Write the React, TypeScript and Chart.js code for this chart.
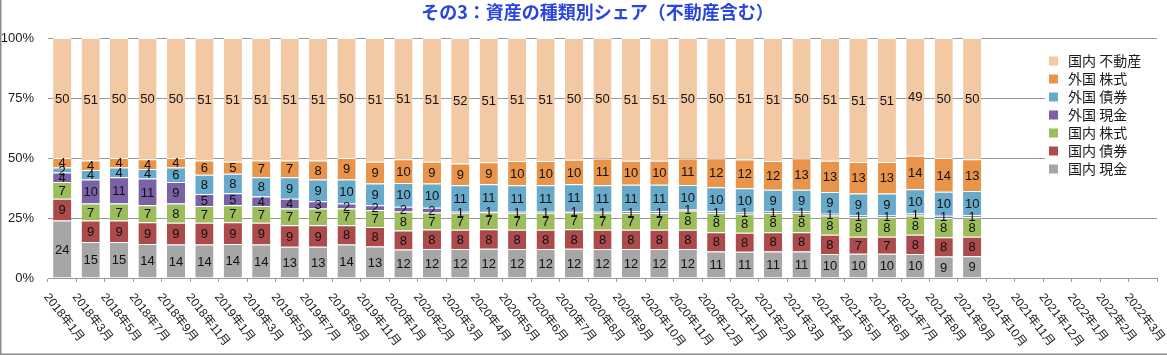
import React, { useEffect, useRef } from "react";
import { Chart, registerables } from "chart.js";

Chart.register(...registerables);

const chartTitle = "その3：資産の種類別シェア（不動産含む）";

const categories = [
  "2018年1月", "2018年3月", "2018年5月", "2018年7月", "2018年9月", "2018年11月",
  "2019年1月", "2019年3月", "2019年5月", "2019年7月", "2019年9月", "2019年11月",
  "2020年1月", "2020年2月", "2020年3月", "2020年4月", "2020年5月", "2020年6月",
  "2020年7月", "2020年8月", "2020年9月", "2020年10月", "2020年11月", "2020年12月",
  "2021年1月", "2021年2月", "2021年3月", "2021年4月", "2021年5月", "2021年6月",
  "2021年7月", "2021年8月", "2021年9月", "2021年10月", "2021年11月", "2021年12月",
  "2022年1月", "2022年2月", "2022年3月",
];

const yTicks = [0, 25, 50, 75, 100];

// 国内 現金
const domesticCash = [24, 15, 15, 14, 14, 14, 14, 14, 13, 13, 14, 13, 12, 12, 12, 12, 12, 12, 12, 12, 12, 12, 12, 11, 11, 11, 11, 10, 10, 10, 10, 9, 9];
// 国内 債券
const domesticBond = [9, 9, 9, 9, 9, 9, 9, 9, 9, 9, 8, 8, 8, 8, 8, 8, 8, 8, 8, 8, 8, 8, 8, 8, 8, 8, 8, 8, 7, 7, 8, 8, 8];
// 国内 株式
const domesticStock = [7, 7, 7, 7, 8, 7, 7, 7, 7, 7, 7, 7, 8, 7, 7, 7, 7, 7, 7, 7, 7, 7, 8, 8, 8, 8, 8, 8, 8, 8, 8, 8, 8];
// 外国 現金
const foreignCash = [4, 10, 11, 11, 9, 5, 5, 4, 4, 3, 2, 2, 2, 2, 0.5, 0.5, 0.5, 0.5, 0.5, 0.5, 0.7, 0.7, 0.6, 0.7, 0.7, 0.6, 0.7, 0.7, 0.7, 0.7, 0.9, 0.9, 0.9];
// 外国 債券
const foreignBond = [2, 4, 4, 4, 6, 8, 8, 8, 9, 9, 10, 9, 10, 10, 11, 11, 11, 11, 11, 11, 11, 11, 10, 10, 10, 9, 9, 9, 9, 9, 10, 10, 10];
// 外国 株式
const foreignStock = [4, 4, 4, 4, 4, 6, 5, 7, 7, 8, 9, 9, 10, 9, 9, 9, 10, 10, 10, 11, 10, 10, 11, 12, 12, 12, 13, 13, 13, 13, 14, 14, 13];
// 国内 不動産
const domesticRealEstate = [50, 51, 50, 50, 50, 51, 51, 51, 51, 51, 50, 51, 51, 51, 52, 51, 51, 51, 50, 50, 51, 51, 50, 50, 51, 51, 50, 51, 51, 51, 49, 50, 50];

const seriesLabels = ["国内 現金", "国内 債券", "国内 株式", "外国 現金", "外国 債券", "外国 株式", "国内 不動産"];
const seriesValues = [domesticCash, domesticBond, domesticStock, foreignCash, foreignBond, foreignStock, domesticRealEstate];
const seriesColors = ["#A6A6A6", "#AD4B4C", "#9DBD5C", "#7A61A8", "#68AACA", "#E8944A", "#F3C9A3"];

const FONT_LATIN = '"Liberation Sans", "Noto Sans CJK JP", Arial, sans-serif';
const FONT_CJK = '"Noto Sans CJK JP", "Liberation Sans", sans-serif';

export default function App() {
  const canvasRef = useRef<HTMLCanvasElement | null>(null);

  useEffect(() => {
    document.body.style.margin = "0";
    const canvas = canvasRef.current;
    if (!canvas) return;

    const totals = categories.map((_, i) =>
      seriesValues.reduce((s, arr) => s + (i < arr.length ? arr[i] : 0), 0)
    );

    const datasets = seriesValues.map((arr, k) => ({
      label: seriesLabels[k],
      data: categories.map((_, i) => (i < arr.length ? (arr[i] / totals[i]) * 100 : null)),
      backgroundColor: seriesColors[k],
      borderColor: "#ffffff",
      borderWidth: { top: 1, right: 0, bottom: 0, left: 0 },
      borderSkipped: false,
      barPercentage: 0.64,
      categoryPercentage: 1,
    }));

    const customPlugin = {
      id: "custom",
      beforeDraw(chart: any) {
        const ctx = chart.ctx;
        ctx.save();
        ctx.fillStyle = "#ffffff";
        ctx.fillRect(0, 0, chart.width, chart.height);
        ctx.restore();
      },
      afterDatasetsDraw(chart: any) {
        const ctx = chart.ctx;
        ctx.save();
        ctx.font = `13px ${FONT_LATIN}`;
        ctx.fillStyle = "#111111";
        ctx.textAlign = "center";
        ctx.textBaseline = "middle";
        chart.data.datasets.forEach((ds: any, k: number) => {
          const meta = chart.getDatasetMeta(k);
          meta.data.forEach((el: any, i: number) => {
            const arr = seriesValues[k];
            if (i >= arr.length) return;
            const { x, y, base } = el.getProps(["x", "y", "base"], true);
            ctx.fillText(String(Math.round(arr[i])), x, (y + base) / 2 + 1);
          });
        });
        ctx.restore();
      },
      afterDraw(chart: any) {
        const ctx = chart.ctx;
        const area = chart.chartArea;
        const xScale = chart.scales.x;
        ctx.save();

        // title
        ctx.font = `bold 18px ${FONT_CJK}`;
        ctx.fillStyle = "#2845E0";
        ctx.textAlign = "center";
        ctx.textBaseline = "middle";
        ctx.fillText(chartTitle, (area.left + area.right) / 2 - 5, 12);

        // x labels
        ctx.font = `12px ${FONT_LATIN}`;
        ctx.fillStyle = "#1a1a1a";
        ctx.textAlign = "left";
        ctx.textBaseline = "middle";
        const ang = (52 * Math.PI) / 180;
        categories.forEach((lab, i) => {
          const x = xScale.getPixelForValue(i);
          ctx.save();
          ctx.translate(x - 16, area.bottom + 17);
          ctx.rotate(ang);
          ctx.fillText(lab, 0, 0);
          ctx.restore();
        });

        // legend
        ctx.fillStyle = "#ffffff";
        ctx.fillRect(1045, 46, 122, 134);
        ctx.font = `14px ${FONT_CJK}`;
        ctx.textAlign = "left";
        ctx.textBaseline = "middle";
        const order = [...chart.data.datasets.keys()].reverse();
        order.forEach((k: number, j: number) => {
          const ds = chart.data.datasets[k];
          const cy = 61 + j * 18;
          ctx.fillStyle = ds.backgroundColor;
          ctx.fillRect(1049, cy - 4.5, 9, 9);
          ctx.fillStyle = "#1a1a1a";
          ctx.fillText(ds.label, 1068, cy);
        });

        // frame
        ctx.strokeStyle = "#8a8a8a";
        ctx.lineWidth = 1.5;
        ctx.beginPath();
        ctx.moveTo(0.75, 0);
        ctx.lineTo(0.75, chart.height - 0.75);
        ctx.lineTo(chart.width, chart.height - 0.75);
        ctx.stroke();
        ctx.restore();
      },
    };

    const chart = new Chart(canvas, {
      type: "bar",
      data: { labels: categories, datasets: datasets as any },
      options: {
        responsive: false,
        animation: false,
        events: [],
        layout: { padding: { top: 38, right: 10, left: 0, bottom: 0 } },
        plugins: {
          legend: { display: false },
          title: { display: false },
          tooltip: { enabled: false },
        },
        scales: {
          x: {
            stacked: true,
            ticks: { display: false },
            grid: {
              offset: true,
              drawOnChartArea: false,
              drawTicks: true,
              tickLength: 4,
              color: "#9a9a9a",
            },
            border: { display: true, color: "#9a9a9a", width: 1 },
            afterFit: (scale: any) => {
              scale.height = 77;
            },
          },
          y: {
            stacked: true,
            min: 0,
            max: 100,
            afterBuildTicks: (scale: any) => {
              scale.ticks = yTicks.map((v) => ({ value: v }));
            },
            ticks: {
              callback: (v: any) => `${v}%`,
              font: { size: 13, family: FONT_LATIN },
              color: "#1a1a1a",
              padding: 14,
            },
            grid: { color: "#9a9a9a", drawTicks: false, lineWidth: 1 },
            border: { display: false },
            afterFit: (scale: any) => {
              scale.width = 48;
            },
          },
        },
      },
      plugins: [customPlugin],
    });

    return () => {
      chart.destroy();
    };
  }, []);

  return (
    <div style={{ width: 1167, height: 355 }}>
      <canvas ref={canvasRef} width={1167} height={355} style={{ display: "block" }} />
    </div>
  );
}
